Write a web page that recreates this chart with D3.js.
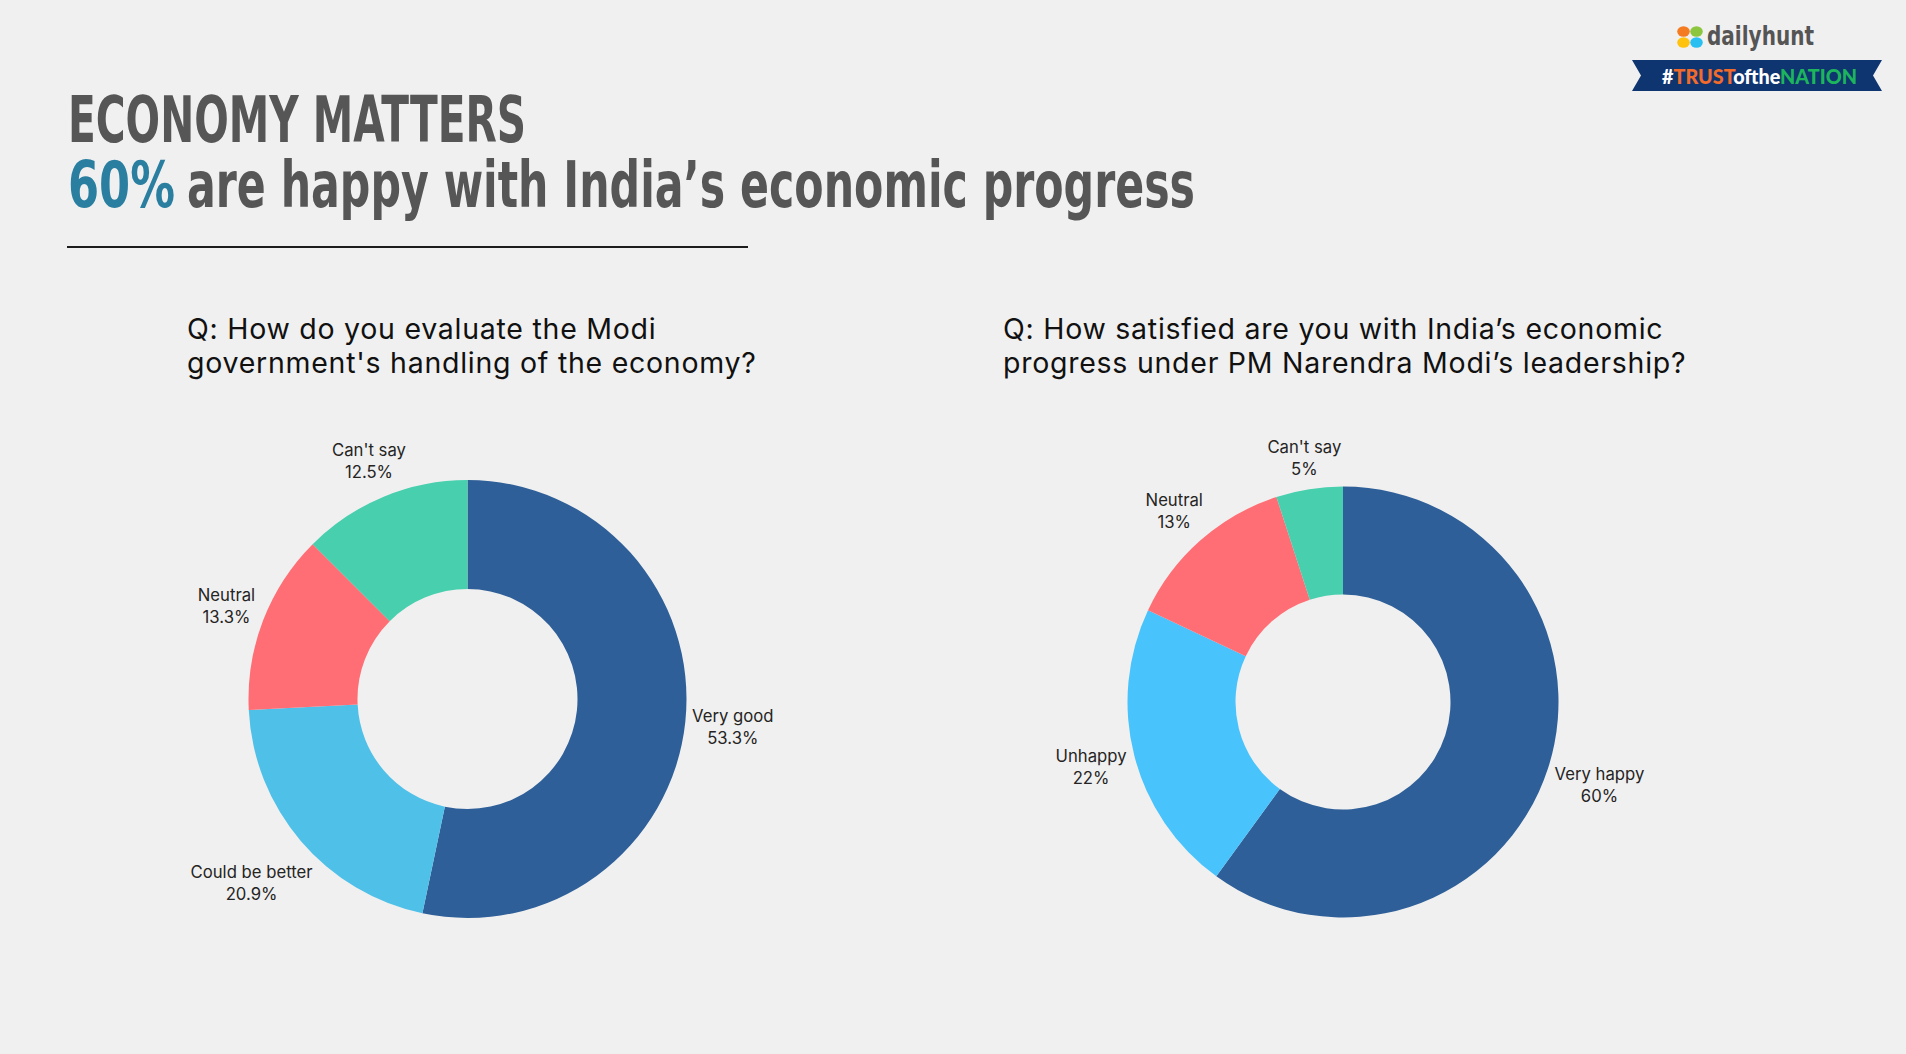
<!DOCTYPE html>
<html>
<head>
<meta charset="utf-8">
<script src="https://cdn.jsdelivr.net/npm/d3@7"></script>
<style>
  html, body { margin: 0; padding: 0; background: #f0f0f0; }
  svg { display: block; }
</style>
</head>
<body>
<svg id="chart" width="1906" height="1054"></svg>
<script>
// ---- data ----
const titleLine1 = "ECONOMY MATTERS";
const titleHighlight = "60%";
const titleLine2 = "are happy with India’s economic progress";

const q1Lines = ["Q: How do you evaluate the Modi", "government's handling of the economy?"];
const q1Categories = ["Very good", "Could be better", "Neutral", "Can't say"];
const q1Values = [53.3, 20.9, 13.3, 12.5];
const q1ValueLabels = ["53.3%", "20.9%", "13.3%", "12.5%"];

const q2Lines = ["Q: How satisfied are you with India’s economic", "progress under PM Narendra Modi’s leadership?"];
const q2Categories = ["Very happy", "Unhappy", "Neutral", "Can't say"];
const q2Values = [60, 22, 13, 5];
const q2ValueLabels = ["60%", "22%", "13%", "5%"];

// ---- styles ----
const q1Colors = ["#2e5f98", "#4fc0e8", "#ff6e75", "#48cfae"];
const q2Colors = ["#2e5f98", "#49c3fc", "#ff6e75", "#48cfae"];
const textDark = "#252423";

const svg = d3.select("#chart");

// ---- title ----
const titleFont = "'Liberation Sans Narrow', 'DejaVu Sans Condensed', 'Arial Narrow', sans-serif";
function titleText(str, x, y, len, color) {
  svg.append("text")
    .attr("x", x).attr("y", y)
    .attr("font-family", titleFont).attr("font-weight", 700)
    .attr("font-size", 64).attr("fill", color)
    .attr("textLength", len).attr("lengthAdjust", "spacingAndGlyphs")
    .text(str);
}
titleText(titleLine1, 68, 141.5, 458, "#565656");
titleText(titleHighlight, 68, 206.5, 107, "#2a7fa0");
titleText(titleLine2, 187, 206.5, 1008, "#565656");

svg.append("line")
  .attr("x1", 67).attr("x2", 748).attr("y1", 247).attr("y2", 247)
  .attr("stroke", "#1c1c1c").attr("stroke-width", 2);

// ---- logo ----
const logo = svg.append("g");
const petals = [
  {c: "#f47b20", x: -6.5, y: -5.5},
  {c: "#8cc63f", x: 6.5, y: -5.5},
  {c: "#ffc20e", x: -6.5, y: 5.5},
  {c: "#29c0f1", x: 6.5, y: 5.5}
];
logo.selectAll("ellipse").data(petals).join("ellipse")
  .attr("cx", d => 1690 + d.x).attr("cy", d => 37 + d.y)
  .attr("rx", 6.3).attr("ry", 5.2)
  .attr("fill", d => d.c);
logo.append("text")
  .attr("x", 1707).attr("y", 45)
  .attr("font-family", titleFont).attr("font-weight", 700)
  .attr("font-size", 27).attr("fill", "#555")
  .attr("textLength", 107).attr("lengthAdjust", "spacingAndGlyphs")
  .text("dailyhunt");
logo.append("path")
  .attr("d", "M1632,60 L1882,60 L1873,75.5 L1882,91 L1632,91 L1641,75.5 Z")
  .attr("fill", "#0f3571");
const bt = logo.append("text")
  .attr("x", 1662).attr("y", 84)
  .attr("font-family", "Lato, 'Open Sans', sans-serif").attr("font-weight", 900)
  .attr("font-size", 20)
  .attr("textLength", 195).attr("lengthAdjust", "spacingAndGlyphs");
bt.append("tspan").attr("fill", "#ffffff").text("#");
bt.append("tspan").attr("fill", "#f26b2a").text("TRUST");
bt.append("tspan").attr("fill", "#ffffff").text("ofthe");
bt.append("tspan").attr("fill", "#1db55c").text("NATION");

// ---- questions ----
function question(lines, x) {
  const t = svg.append("text")
    .attr("font-family", "Inter, 'DejaVu Sans', sans-serif")
    .attr("font-size", 28.5).attr("letter-spacing", 0.74).attr("fill", "#111");
  lines.forEach((l, i) => {
    t.append("tspan").attr("x", x).attr("y", 339 + i * 34).text(l);
  });
}
question(q1Lines, 187);
question(q2Lines, 1003);

// ---- donuts ----
function donut(categories, values, valueLabels, colors, cx, cy, outerR, innerR) {
  const pie = d3.pie().sort(null).value(d => d)(values);
  const arc = d3.arc().innerRadius(innerR).outerRadius(outerR);
  const g = svg.append("g").attr("transform", `translate(${cx},${cy})`);
  g.selectAll("path").data(pie).join("path")
    .attr("d", arc)
    .attr("fill", (d, i) => colors[i]);

  const gap = 5;
  pie.forEach((d, i) => {
    const lg = g.append("g");
    const t = lg.append("text")
      .attr("font-family", "Inter, 'DejaVu Sans', sans-serif")
      .attr("font-size", 16.7).attr("fill", textDark)
      .attr("text-anchor", "middle");
    t.append("tspan").attr("x", 0).attr("y", 0).text(categories[i]);
    t.append("tspan").attr("x", 0).attr("y", 22).text(valueLabels[i]);
    const bb = t.node().getBBox();
    const a = (d.startAngle + d.endAngle) / 2;
    const s = Math.sin(a), c = -Math.cos(a);
    const dist = outerR + gap + Math.abs(s) * bb.width / 2 + Math.abs(c) * bb.height / 2;
    const px = dist * s, py = dist * c;
    const bcx = bb.x + bb.width / 2, bcy = bb.y + bb.height / 2;
    lg.attr("transform", `translate(${px - bcx},${py - bcy})`);
  });
}
donut(q1Categories, q1Values, q1ValueLabels, q1Colors, 467.5, 699, 219, 110);
donut(q2Categories, q2Values, q2ValueLabels, q2Colors, 1343, 702, 215.5, 107.5);
</script>
</body>
</html>
